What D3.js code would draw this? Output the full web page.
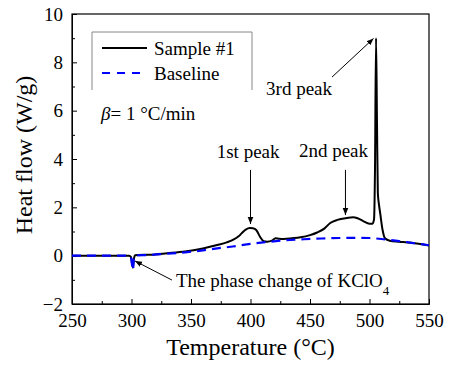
<!DOCTYPE html>
<html>
<head>
<meta charset="utf-8">
<script src="https://cdn.jsdelivr.net/npm/d3@7"></script>
<style>
  body { margin: 0; background: #fff; overflow: hidden; }
  svg { display: block; }
  svg text { font-family: "Liberation Serif", "DejaVu Serif", "Times New Roman", Times, serif; fill: #000; }
</style>
</head>
<body>
<div id="chart"></div>
<script>
// sample #1 heat flow curve (temperature in C, heat flow in W/g)
var sampleTemp = [250, 270, 290, 298, 299.5, 300.5, 301.2, 302, 303, 306, 315, 330, 345, 360, 372, 380, 386, 390, 393, 396, 399.5, 402, 405, 408, 411, 414, 418, 421, 424, 428, 435, 442, 450, 456, 462, 467, 473, 481, 486, 490, 495, 500, 502.5, 503.8, 504.6, 505.5, 506.3, 507, 508, 509, 511, 513, 517, 525, 535, 550];
var sampleFlow = [0, 0, 0, 0, -0.05, -0.35, -0.5, -0.15, 0.02, 0.03, 0.04, 0.1, 0.17, 0.3, 0.44, 0.55, 0.67, 0.8, 0.95, 1.08, 1.14, 1.13, 1.05, 0.78, 0.6, 0.58, 0.62, 0.72, 0.7, 0.69, 0.72, 0.76, 0.85, 0.96, 1.12, 1.35, 1.48, 1.56, 1.59, 1.55, 1.42, 1.32, 1.32, 1.5, 3.5, 9.0, 5.5, 2.6, 2.1, 1.75, 1.06, 0.72, 0.62, 0.58, 0.53, 0.42];

// baseline curve
var baseTemp = [250, 280, 298, 299.5, 300.5, 301.2, 302, 303, 315, 330, 345, 360, 372, 385, 400, 415, 430, 445, 460, 475, 490, 500, 510, 520, 530, 540, 550];
var baseFlow = [0, 0, 0, -0.05, -0.4, -0.6, -0.1, 0.01, 0.03, 0.08, 0.14, 0.22, 0.3, 0.38, 0.49, 0.57, 0.64, 0.68, 0.71, 0.73, 0.74, 0.73, 0.69, 0.63, 0.57, 0.5, 0.43];

var xTicks = [250, 300, 350, 400, 450, 500, 550];
var yTicks = [-2, 0, 2, 4, 6, 8, 10];

// annotations: text anchor point and arrow from/to, in data units
var annoLabels = ['1st peak', '2nd peak', '3rd peak'];
var annoTextX = [398, 469.7, 440.8];
var annoTextY = [4.04, 4.1, 6.65];
var arrowFrom = [[400, 3.55], [479.8, 3.55], [468.5, 7.39], [334, -1.01]];
var arrowTo = [[400, 1.31], [479.8, 1.68], [503.4, 8.99], [302.9, -0.22]];

var serif = '"Liberation Serif", "DejaVu Serif", "Times New Roman", Times, serif';

var width = 449, height = 365;
var margin = {top: 14, right: 20, bottom: 61, left: 72};
var innerWidth = width - margin.left - margin.right,
	innerHeight = height - margin.top - margin.bottom;

var svg = d3.select('#chart')
	.append('svg')
		.attr('width', width)
		.attr('height', height)
		.style('font-family', serif);

var chartInner = svg.append('g')
	.attr('transform', `translate(${margin.left},${margin.top})`);

var x = d3.scaleLinear()
	.domain([250, 550])
	.range([0, innerWidth]);

var y = d3.scaleLinear()
	.domain([-2, 10])
	.range([innerHeight, 0]);

// axes, ticks pointing inward
var xAxis = chartInner.append('g')
	.attr('transform', `translate(0,${innerHeight})`)
	.call(d3.axisBottom(x).tickValues(xTicks).tickSize(-5).tickPadding(10).tickFormat(d3.format('d')));
xAxis.append('g')
	.attr('class', 'minor')
	.call(d3.axisBottom(x).tickValues(d3.range(275, 550, 50)).tickSize(-3).tickFormat(''));

var yAxis = chartInner.append('g')
	.call(d3.axisLeft(y).tickValues(yTicks).tickSize(-5).tickPadding(9));
yAxis.append('g')
	.attr('class', 'minor')
	.call(d3.axisLeft(y).tickValues(d3.range(-1, 10, 2)).tickSize(-3).tickFormat(''));

// minor ticks have no labels
chartInner.selectAll('.minor text').remove();
chartInner.selectAll('.minor .domain').remove();

chartInner.selectAll('g').attr('font-family', null).attr('font-size', null);
chartInner.selectAll('.domain').attr('stroke', '#000');
chartInner.selectAll('.tick line').attr('stroke', '#000');
chartInner.selectAll('.tick text')
	.style('font-size', '19px')
	.style('font-family', serif);

// frame
chartInner.append('rect')
	.attr('width', innerWidth)
	.attr('height', innerHeight)
	.attr('fill', 'none')
	.attr('stroke', '#000')
	.attr('stroke-width', 1.2);

var line = d3.line()
	.x(d => x(d[0]))
	.y(d => y(d[1]))
	.curve(d3.curveMonotoneX);

var sampleData = sampleTemp.map((t, i) => [t, sampleFlow[i]]);
var baseData = baseTemp.map((t, i) => [t, baseFlow[i]]);

chartInner.append('path')
	.datum(sampleData)
	.attr('d', line)
	.style('fill', 'none')
	.style('stroke', '#000')
	.style('stroke-width', 2)
	.style('stroke-linejoin', 'round');

chartInner.append('path')
	.datum(baseData)
	.attr('d', line)
	.style('fill', 'none')
	.style('stroke', '#0000ff')
	.style('stroke-width', 2.2)
	.style('stroke-dasharray', '9,6');

// arrows
svg.append('defs').append('marker')
	.attr('id', 'head')
	.attr('viewBox', '0 0 10 10')
	.attr('refX', 10)
	.attr('refY', 5)
	.attr('markerWidth', 7)
	.attr('markerHeight', 7)
	.attr('markerUnits', 'userSpaceOnUse')
	.attr('orient', 'auto')
	.append('path')
		.attr('d', 'M0,1 L10,5 L0,9 Z')
		.attr('fill', '#000');

arrowFrom.forEach(function(f, i){
	chartInner.append('line')
		.attr('x1', x(f[0]))
		.attr('y1', y(f[1]))
		.attr('x2', x(arrowTo[i][0]))
		.attr('y2', y(arrowTo[i][1]))
		.attr('stroke', '#000')
		.attr('stroke-width', 1)
		.attr('marker-end', 'url(#head)');
});

annoLabels.forEach(function(l, i){
	chartInner.append('text')
		.attr('x', x(annoTextX[i]))
		.attr('y', y(annoTextY[i]))
		.attr('text-anchor', 'middle')
		.style('font-size', '19px')
		.text(l);
});

var phase = chartInner.append('text')
	.attr('x', x(337.4))
	.attr('y', y(-1.28))
	.style('font-size', '19px');
phase.append('tspan').text('The phase change of KClO');
phase.append('tspan').attr('dy', 8).style('font-size', '13px').text('4');

// legend (box open at the bottom)
var legend = svg.append('g');
legend.append('path')
	.attr('d', 'M92,90 L92,32 L252,32 L252,90')
	.attr('fill', 'none')
	.attr('stroke', '#888')
	.attr('stroke-width', 1);
legend.append('line')
	.attr('x1', 102).attr('x2', 147).attr('y1', 48).attr('y2', 48)
	.attr('stroke', '#000').attr('stroke-width', 2);
legend.append('line')
	.attr('x1', 102).attr('x2', 147).attr('y1', 73).attr('y2', 73)
	.attr('stroke', '#0000ff').attr('stroke-width', 2.2).attr('stroke-dasharray', '8,7');
legend.append('text').attr('x', 154).attr('y', 55).style('font-size', '19px').text('Sample #1');
legend.append('text').attr('x', 154).attr('y', 80).style('font-size', '19px').text('Baseline');

var beta = svg.append('text')
	.attr('x', 101)
	.attr('y', 120)
	.style('font-size', '19px');
beta.append('tspan').style('font-style', 'italic').text('β');
beta.append('tspan').text('= 1 °C/min');

// axis titles
svg.append('text')
	.attr('x', margin.left + innerWidth / 2)
	.attr('y', 355)
	.attr('text-anchor', 'middle')
	.style('font-size', '24px')
	.text('Temperature (°C)');

svg.append('text')
	.attr('transform', 'translate(32,155) rotate(-90)')
	.attr('text-anchor', 'middle')
	.style('font-size', '24px')
	.text('Heat flow (W/g)');
</script>
</body>
</html>
